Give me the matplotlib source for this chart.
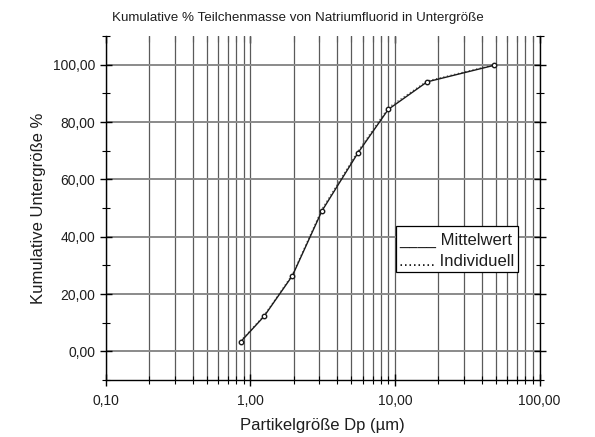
import matplotlib
matplotlib.use("Agg")
import matplotlib.pyplot as plt
from matplotlib.patches import Rectangle
from matplotlib.ticker import FixedLocator, FuncFormatter, LogLocator, NullFormatter
import numpy as np

plt.rcParams['font.family'] = ['Liberation Sans', 'DejaVu Sans']
plt.rcParams['text.color'] = '#1e1e1e'
plt.rcParams['axes.labelcolor'] = '#1e1e1e'
plt.rcParams['xtick.labelcolor'] = '#1e1e1e'
plt.rcParams['ytick.labelcolor'] = '#1e1e1e'

title = "Kumulative % Teilchenmasse von Natriumfluorid in Untergröße"
xlabel = "Partikelgröße Dp (µm)"
ylabel = "Kumulative Untergröße %"

dp_mean = [0.856, 1.245, 1.956, 3.13, 5.55, 9.0, 16.7, 48.8]
cum_mean = [3.3, 12.2, 26.4, 49.0, 69.2, 84.4, 94.0, 99.8]
dp_indiv = [0.856, 1.245, 1.956, 3.13, 5.55, 9.0, 16.7, 48.8]
cum_indiv = [3.6, 12.5, 26.8, 49.6, 69.8, 85.0, 94.3, 100.0]

legend_labels = ["Mittelwert", "Individuell"]
ymajor = [0, 20, 40, 60, 80, 100]
yminor = [-10, 10, 30, 50, 70, 90, 110]

fig = plt.figure(figsize=(5.95, 4.37), dpi=100)
ax = fig.add_axes([105.7/595, 1-380/437, (539.5-105.7)/595, (380-36)/437])
ax.set_xscale('log')
ax.set_xlim(0.1, 100)
ax.set_ylim(-10, 110)

ax.set_axisbelow(True)
ax.xaxis.set_major_locator(FixedLocator([0.1, 1, 10, 100]))
ax.xaxis.set_minor_locator(LogLocator(base=10, subs=np.arange(2, 10), numticks=20))
ax.xaxis.set_minor_formatter(NullFormatter())
ax.xaxis.set_major_formatter(FuncFormatter(lambda v, p: f"{v:.2f}".replace('.', ',')))
ax.yaxis.set_major_locator(FixedLocator(ymajor))
ax.yaxis.set_minor_locator(FixedLocator(yminor))
ax.yaxis.set_major_formatter(FuncFormatter(lambda v, p: f"{v:.2f}".replace('.', ',')))

ax.grid(True, which='both', axis='x', color='#5a5a5a', lw=0.9)
ax.grid(True, which='major', axis='y', color='#8a8a8a', lw=1.4)

ax.plot(dp_indiv, cum_indiv, ls=(0, (1, 2)), color='#555555', lw=0.9)
ax.plot(dp_mean, cum_mean, '-', color='#1a1a1a', lw=1.0, marker='o', ms=3.2,
        mfc='white', mec='#1a1a1a', mew=1.0)

ax.spines['top'].set_visible(False)
for s in ['left', 'bottom', 'right']:
    ax.spines[s].set_color('black')
    ax.spines[s].set_linewidth(1.0)

ax.tick_params(axis='x', which='major', direction='inout', length=8, width=1.0,
               labelsize=10, pad=6, top=False)
ax.tick_params(axis='x', which='minor', direction='inout', length=6, width=0.8, top=False)
ax.tick_params(axis='y', which='major', direction='inout', length=9, width=1.0,
               labelsize=10, right=True, pad=3)
ax.tick_params(axis='y', which='minor', direction='inout', length=6, width=0.8, right=True)

# top ticks (inward only, no spine)
top = ax.secondary_xaxis('top')
top.spines['top'].set_visible(False)
top.xaxis.set_major_locator(FixedLocator([0.1, 1, 10, 100]))
top.xaxis.set_minor_locator(LogLocator(base=10, subs=np.arange(2, 10), numticks=20))
top.xaxis.set_minor_formatter(NullFormatter())
top.tick_params(axis='x', which='major', direction='in', length=5, width=1.0, labeltop=False)
top.tick_params(axis='x', which='minor', direction='in', length=4, width=0.8)

ax.set_xlabel(xlabel, fontsize=12, labelpad=7)
ax.set_ylabel(ylabel, fontsize=12, labelpad=5)

fig.text(0.5, 1-18/437, title, ha='center', va='center', fontsize=9.6)

# legend box
x0 = (396-105.7)/433.8
x1 = (518-105.7)/433.8
y0 = (380-272)/344
y1 = (380-226)/344
ax.add_patch(Rectangle((x0, y0), x1-x0, y1-y0, transform=ax.transAxes,
                       fc='white', ec='black', lw=0.9, zorder=5))
ax.text(x0 + 3/433.8, (380-240)/344, "____ " + legend_labels[0], transform=ax.transAxes,
        fontsize=12, va='center', ha='left', zorder=6)
ax.text(x0 + 3/433.8, (380-261)/344, "........ " + legend_labels[1], transform=ax.transAxes,
        fontsize=12, va='center', ha='left', zorder=6)

fig.savefig("out.png", dpi=100)
